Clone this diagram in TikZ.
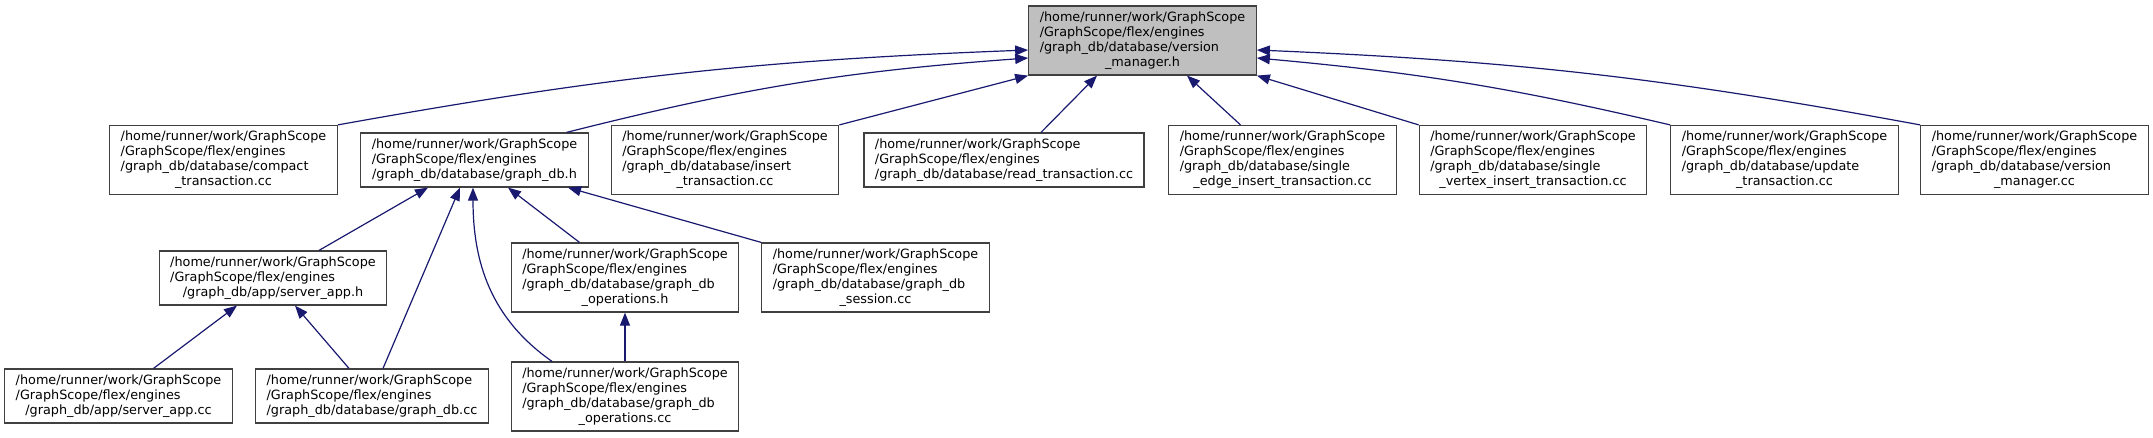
\documentclass[tikz,border=0pt]{standalone}
\usepackage{fontspec}
\setmainfont{DejaVu Sans}
\usetikzlibrary{arrows.meta}
\usepackage{xcolor}
\definecolor{edgenavy}{HTML}{191970}
\definecolor{boxgray}{HTML}{BFBFBF}
\definecolor{boxline}{HTML}{404040}

% file label: first lines left, last line centred
\newcommand{\fpath}[2]{\begin{tabular}{@{}l@{}}#1\\\multicolumn{1}{@{}c@{}}{#2}\end{tabular}}

\begin{document}
\begin{tikzpicture}[
    x=1pt, y=-1pt,
    file/.style={draw=boxline, line width=1.2pt, fill=white, inner xsep=11pt, inner ysep=4.5pt, font=\fontsize{12.8}{15}\selectfont},
    current/.style={file, fill=boxgray},
    dep/.style={draw=edgenavy, line width=1.2pt, -{Triangle[length=13pt,width=10pt]}},
]
\useasboundingbox (0,0) rectangle (2153,437);

% Header under study
\node[current] (vmh) at (1142.5,40.5) {\fpath{/home/runner/work/GraphScope\\/GraphScope/flex/engines\\/graph\_db/database/version}{\_manager.h}};

% Direct includers
\node[file] (compact) at (223.5,160) {\fpath{/home/runner/work/GraphScope\\/GraphScope/flex/engines\\/graph\_db/database/compact}{\_transaction.cc}};
\node[file] (graphdbh) at (474.5,160) {\fpath{/home/runner/work/GraphScope\\/GraphScope/flex/engines}{/graph\_db/database/graph\_db.h}};
\node[file] (insert) at (725,160) {\fpath{/home/runner/work/GraphScope\\/GraphScope/flex/engines\\/graph\_db/database/insert}{\_transaction.cc}};
\node[file] (read) at (1004,160) {\fpath{/home/runner/work/GraphScope\\/GraphScope/flex/engines}{/graph\_db/database/read\_transaction.cc}};
\node[file] (sedge) at (1282.5,160) {\fpath{/home/runner/work/GraphScope\\/GraphScope/flex/engines\\/graph\_db/database/single}{\_edge\_insert\_transaction.cc}};
\node[file] (svertex) at (1533,160) {\fpath{/home/runner/work/GraphScope\\/GraphScope/flex/engines\\/graph\_db/database/single}{\_vertex\_insert\_transaction.cc}};
\node[file] (update) at (1784.5,160) {\fpath{/home/runner/work/GraphScope\\/GraphScope/flex/engines\\/graph\_db/database/update}{\_transaction.cc}};
\node[file] (vmcc) at (2034.5,160) {\fpath{/home/runner/work/GraphScope\\/GraphScope/flex/engines\\/graph\_db/database/version}{\_manager.cc}};

% Includers of graph_db.h
\node[file] (serverh) at (273,278) {\fpath{/home/runner/work/GraphScope\\/GraphScope/flex/engines}{/graph\_db/app/server\_app.h}};
\node[file] (opsh) at (625,277.5) {\fpath{/home/runner/work/GraphScope\\/GraphScope/flex/engines\\/graph\_db/database/graph\_db}{\_operations.h}};
\node[file] (session) at (875.5,277.5) {\fpath{/home/runner/work/GraphScope\\/GraphScope/flex/engines\\/graph\_db/database/graph\_db}{\_session.cc}};

% Bottom row
\node[file] (servercc) at (118.5,396) {\fpath{/home/runner/work/GraphScope\\/GraphScope/flex/engines}{/graph\_db/app/server\_app.cc}};
\node[file] (graphdbcc) at (372,396) {\fpath{/home/runner/work/GraphScope\\/GraphScope/flex/engines}{/graph\_db/database/graph\_db.cc}};
\node[file] (opscc) at (625,396.5) {\fpath{/home/runner/work/GraphScope\\/GraphScope/flex/engines\\/graph\_db/database/graph\_db}{\_operations.cc}};

% Edges to version_manager.h
\draw[dep] (compact.north east) to[bend left=4] ([yshift=-9.5pt]vmh.west);
\draw[dep] ([xshift=92pt]graphdbh.north) to[bend left=5] ([yshift=-17.5pt]vmh.west);
\draw[dep] (insert.north east) -- (vmh.south west);
\draw[dep] ([xshift=37pt]read.north) -- ([xshift=-45.5pt]vmh.south);
\draw[dep] ([xshift=-42pt]sedge.north) -- ([xshift=44.5pt]vmh.south);
\draw[dep] (svertex.north west) -- (vmh.south east);
\draw[dep] (update.north west) to[bend right=4] ([yshift=-17.5pt]vmh.east);
\draw[dep] (vmcc.north west) to[bend right=4] ([yshift=-9.5pt]vmh.east);

% Edges to graph_db.h
\draw[dep] ([xshift=46pt]serverh.north) -- ([xshift=-46.5pt]graphdbh.south);
\draw[dep] ([xshift=11pt]graphdbcc.north) -- ([xshift=-14.5pt]graphdbh.south);
\draw[dep] ([xshift=-73pt]opscc.north) to[out=145, in=-90] ([xshift=-1.5pt]graphdbh.south);
\draw[dep] ([xshift=-45.5pt]opsh.north) -- ([xshift=33.5pt]graphdbh.south);
\draw[dep] (session.north west) -- ([xshift=93.5pt]graphdbh.south);

% Edges to server_app.h and graph_db_operations.h
\draw[dep] ([xshift=35pt]servercc.north) -- ([xshift=-36pt]serverh.south);
\draw[dep] ([xshift=-23pt]graphdbcc.north) -- ([xshift=22pt]serverh.south);
\draw[dep] (opscc.north) -- (opsh.south);

\end{tikzpicture}
\end{document}
